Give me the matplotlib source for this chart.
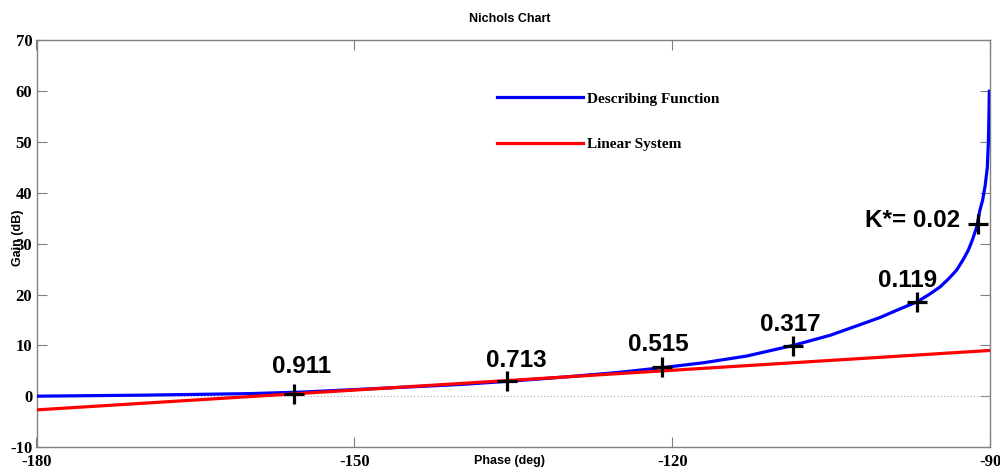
import matplotlib
matplotlib.use('Agg')
import matplotlib.pyplot as plt

plt.rcParams['axes.unicode_minus'] = False

# describing function locus
df_phase = [-180, -170, -160, -155, -150, -145, -140, -135, -130, -125, -121, -117, -113,
            -108.6, -105.1, -102, -100.4, -98.85, -96.9, -95.8, -94.76, -94, -93.2, -92.6,
            -92.1, -91.7, -91.3, -91.0, -90.74, -90.5, -90.3, -90.2, -90.15, -90.11]
df_gain = [0, 0.2, 0.5, 0.8, 1.3, 1.8, 2.3, 3.0, 3.8, 4.7, 5.6, 6.6, 7.9,
           10.0, 12.0, 14.3, 15.5, 16.9, 18.6, 20.0, 21.5, 23.0, 24.8, 26.8,
           28.7, 30.8, 33.3, 36.6, 38.6, 41.5, 45, 50, 55, 60]

# linear system
lin_phase = [-180, -90]
lin_gain = [-2.7, 9.0]

# marked points and their labels
mark_phase = [-155.7, -135.6, -121.0, -108.6, -96.9, -91.2]
mark_gain = [0.45, 2.95, 5.8, 9.9, 18.5, 33.9]
mark_labels = ['0.911', '0.713', '0.515', '0.317', '0.119', 'K*= 0.02']
label_x = [-155.0, -134.7, -121.3, -108.9, -97.8, -92.9]
label_y = [4.6, 5.8, 8.9, 12.9, 21.5, 33.3]

xticks = [-180, -150, -120, -90]
yticks = [-10, 0, 10, 20, 30, 40, 50, 60, 70]

fig = plt.figure(figsize=(10, 4.68), dpi=100)
ax = fig.add_axes([0.0365, 0.0449, 0.954, 0.8686])

ax.axhline(0, color='#aaaaaa', lw=0.8, ls=(0, (1, 2)))
ax.plot(df_phase, df_gain, color='#0000ff', lw=2.3, label='Describing Function', zorder=3)
ax.plot(lin_phase, lin_gain, color='#ff0000', lw=2.3, label='Linear System', zorder=3)
ax.plot(mark_phase, mark_gain, ls='none', marker='+', ms=15, mew=2.3, color='black', zorder=4)

for lx, ly, txt in zip(label_x, label_y, mark_labels):
    ha = 'right' if txt.startswith('K') else 'center'
    ax.text(lx, ly, txt, ha=ha, va='baseline', fontsize=17.5, fontweight='bold',
            family='Liberation Sans')

ax.set_xlim(-180, -90)
ax.set_ylim(-10, 70)
ax.set_xticks(xticks)
ax.set_yticks(yticks)
ax.tick_params(direction='in', length=7, color='#808080', top=True, right=True,
               labelsize=12, pad=3)
ax.tick_params(axis='x', pad=5)
for lab in ax.get_xticklabels() + ax.get_yticklabels():
    lab.set_family('Liberation Serif')
    lab.set_fontweight('bold')
for sp in ax.spines.values():
    sp.set_color('#808080')
    sp.set_linewidth(1)

fig.text(0.5095, 1 - 19 / 468, 'Nichols Chart', ha='center', va='center',
         fontsize=9, fontweight='bold', family='Liberation Sans')
fig.text(0.5095, 1 - 461 / 468, 'Phase (deg)', ha='center', va='center',
         fontsize=9, fontweight='bold', family='Liberation Sans')
fig.text(0.0175, 1 - 238 / 468, 'Gain (dB)', ha='center', va='center', rotation=90,
         fontsize=9, fontweight='bold', family='Liberation Sans')

leg = ax.legend(loc='upper left', bbox_to_anchor=(0.4827, 0.8736), frameon=False,
                handlelength=5.6, handletextpad=0.3, labelspacing=2.1,
                borderpad=0, borderaxespad=0,
                prop={'family': 'Liberation Serif', 'weight': 'bold', 'size': 11})

fig.savefig('out.png', dpi=100)
